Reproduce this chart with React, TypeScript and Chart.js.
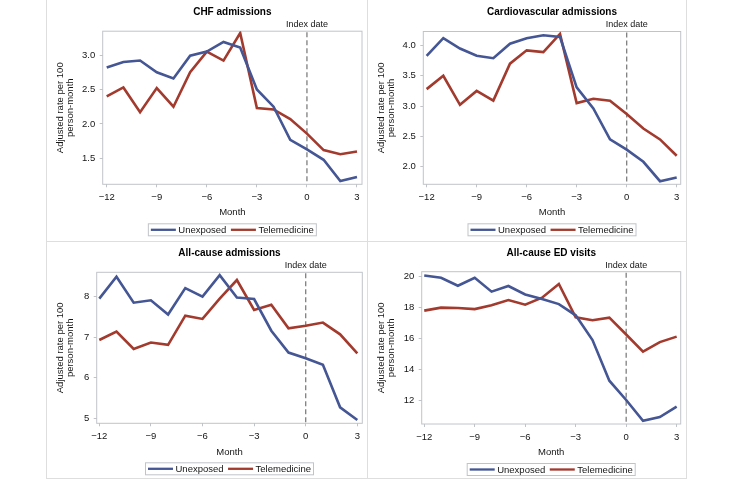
import React, { useEffect, useRef } from "react";
import { Chart, registerables } from "chart.js";

Chart.register(...registerables);

// ---------- data ----------
const months = [-12, -11, -10, -9, -8, -7, -6, -5, -4, -3, -2, -1, 0, 1, 2, 3];
const xTicks = [-12, -9, -6, -3, 0, 3];
const seriesNames = ["Unexposed", "Telemedicine"];
const indexDateLabel = "Index date";
const xAxisTitle = "Month";
const yAxisTitle = ["Adjusted rate per 100", "person-month"];

const chfTitle = "CHF admissions";
const chfUnexposed = [2.82, 2.9, 2.92, 2.75, 2.66, 2.99, 3.05, 3.19, 3.11, 2.5, 2.25, 1.77, 1.63, 1.48, 1.17, 1.23];
const chfTelemedicine = [2.4, 2.53, 2.17, 2.52, 2.25, 2.75, 3.05, 2.92, 3.32, 2.23, 2.21, 2.07, 1.86, 1.62, 1.56, 1.6];
const chfYTicks = [1.5, 2.0, 2.5, 3.0];

const cvTitle = "Cardiovascular admissions";
const cvUnexposed = [3.83, 4.12, 3.95, 3.83, 3.79, 4.03, 4.12, 4.17, 4.14, 3.31, 2.96, 2.45, 2.28, 2.08, 1.76, 1.82];
const cvTelemedicine = [3.28, 3.5, 3.02, 3.25, 3.09, 3.7, 3.92, 3.89, 4.19, 3.05, 3.12, 3.09, 2.87, 2.63, 2.45, 2.18];
const cvYTicks = [2.0, 2.5, 3.0, 3.5, 4.0];

const allTitle = "All-cause admissions";
const allUnexposed = [7.95, 8.49, 7.85, 7.91, 7.56, 8.21, 8.0, 8.53, 7.98, 7.94, 7.16, 6.62, 6.48, 6.32, 5.27, 4.96];
const allTelemedicine = [6.93, 7.14, 6.71, 6.87, 6.81, 7.53, 7.45, 7.95, 8.41, 7.67, 7.8, 7.22, 7.28, 7.36, 7.07, 6.6];
const allYTicks = [5, 6, 7, 8];

const edTitle = "All-cause ED visits";
const edUnexposed = [20.04, 19.89, 19.38, 19.89, 19.0, 19.36, 18.82, 18.52, 18.2, 17.48, 15.89, 13.28, 12.04, 10.71, 10.95, 11.61];
const edTelemedicine = [17.78, 17.97, 17.95, 17.88, 18.12, 18.46, 18.16, 18.61, 19.49, 17.35, 17.16, 17.33, 16.25, 15.14, 15.76, 16.11];
const edYTicks = [12, 14, 16, 18, 20];

// ---------- style ----------
const FONT = "'Liberation Sans', Arial, Helvetica, sans-serif";
const BLUE = "#445694";
const RED = "#A23A2E";
const FRAME = "#c0c4c9";
const TEXT = "#151515";
const OUTER = "#dedede";

type Panel = {
  title: string;
  unexposed: number[];
  telemedicine: number[];
  yTicks: number[];
  yMin: number;
  yMax: number;
  xMin: number;
  xMax: number;
  decimals: number;
  box: { left: number; top: number; width: number; height: number };
  plot: { l: number; r: number; t: number; b: number };
  monthY: number;
};

const panels: Panel[] = [
  {
    title: chfTitle, unexposed: chfUnexposed, telemedicine: chfTelemedicine, yTicks: chfYTicks,
    yMin: 1.124, yMax: 3.346, xMin: -12.24, xMax: 3.3, decimals: 1,
    box: { left: 46, top: 0, width: 321, height: 241 },
    plot: { l: 56.7, r: 316, t: 31.2, b: 184.3 }, monthY: 212,
  },
  {
    title: cvTitle, unexposed: cvUnexposed, telemedicine: cvTelemedicine, yTicks: cvYTicks,
    yMin: 1.709, yMax: 4.231, xMin: -12.2, xMax: 3.24, decimals: 1,
    box: { left: 367, top: 0, width: 319, height: 241 },
    plot: { l: 56.3, r: 313.7, t: 31.5, b: 184.3 }, monthY: 212.3,
  },
  {
    title: allTitle, unexposed: allUnexposed, telemedicine: allTelemedicine, yTicks: allYTicks,
    yMin: 4.877, yMax: 8.6, xMin: -12.15, xMax: 3.29, decimals: 0,
    box: { left: 46, top: 241, width: 321, height: 238 },
    plot: { l: 50.7, r: 316.3, t: 31.3, b: 182.3 }, monthY: 211.3,
  },
  {
    title: edTitle, unexposed: edUnexposed, telemedicine: edTelemedicine, yTicks: edYTicks,
    yMin: 10.5, yMax: 20.28, xMin: -12.15, xMax: 3.24, decimals: 0,
    box: { left: 367, top: 241, width: 319, height: 238 },
    plot: { l: 54.7, r: 313.7, t: 30.7, b: 183 }, monthY: 211,
  },
];

function fmt(v: number, d: number) {
  const s = Math.abs(v).toFixed(d);
  return v < 0 ? "\u2212" + s : s;
}

function PanelChart({ p }: { p: Panel }) {
  const ref = useRef<HTMLCanvasElement>(null);

  useEffect(() => {
    const canvas = ref.current;
    if (!canvas) return;
    const W = p.box.width;
    const H = p.box.height;
    const tickFontSize = 9.5;
    const xLH = tickFontSize * 1.2;
    const xH = p.monthY - p.plot.b + xLH / 2;

    const decor = {
      id: "decor",
      beforeDatasetsDraw(chart: any) {
        const { ctx, chartArea: a, scales } = chart;
        ctx.save();
        // frame
        ctx.strokeStyle = FRAME;
        ctx.lineWidth = 1;
        ctx.strokeRect(a.left, a.top, a.right - a.left, a.bottom - a.top);
        // index date reference line
        const x0 = scales.x.getPixelForValue(0);
        ctx.strokeStyle = "#7f7f7f";
        ctx.lineWidth = 1.3;
        ctx.setLineDash([5, 3]);
        ctx.beginPath();
        ctx.moveTo(x0, a.top + 1);
        ctx.lineTo(x0, a.bottom);
        ctx.stroke();
        ctx.setLineDash([]);
        ctx.fillStyle = TEXT;
        ctx.font = `9px ${FONT}`;
        ctx.textAlign = "center";
        ctx.textBaseline = "middle";
        ctx.fillText(indexDateLabel, x0, a.top - 6.5);
        ctx.restore();
      },
      afterDraw(chart: any) {
        const { ctx, chartArea: a } = chart;
        const cx = (a.left + a.right) / 2;
        ctx.save();
        // title
        ctx.fillStyle = "#000";
        ctx.font = `bold 10px ${FONT}`;
        ctx.textAlign = "center";
        ctx.textBaseline = "middle";
        ctx.fillText(p.title, cx, 12);
        // legend
        ctx.font = `9.5px ${FONT}`;
        const pad = 2.5, lineLen = 25, gap = 2.5, itemGap = 4.5;
        const ds = chart.data.datasets;
        const widths = ds.map((d: any) => ctx.measureText(d.label).width);
        let total = pad * 2;
        widths.forEach((w: number, i: number) => {
          total += lineLen + gap + w + (i < widths.length - 1 ? itemGap : 0);
        });
        const cy = a.bottom + 45.5;
        const bh = 12;
        let x = cx - total / 2;
        ctx.strokeStyle = FRAME;
        ctx.lineWidth = 1;
        ctx.strokeRect(x, cy - bh / 2, total, bh);
        x += pad;
        ds.forEach((d: any, i: number) => {
          ctx.strokeStyle = d.borderColor;
          ctx.lineWidth = 2.3;
          ctx.beginPath();
          ctx.moveTo(x, cy);
          ctx.lineTo(x + lineLen, cy);
          ctx.stroke();
          x += lineLen + gap;
          ctx.fillStyle = TEXT;
          ctx.textAlign = "left";
          ctx.fillText(d.label, x, cy + 0.5);
          x += widths[i] + itemGap;
        });
        ctx.restore();
      },
    };

    const chart = new Chart(canvas, {
      type: "line",
      data: {
        datasets: [
          {
            label: seriesNames[0],
            data: months.map((m, i) => ({ x: m, y: p.unexposed[i] })),
            borderColor: BLUE,
            backgroundColor: BLUE,
            borderWidth: 2.6,
            pointRadius: 0,
            tension: 0,
          },
          {
            label: seriesNames[1],
            data: months.map((m, i) => ({ x: m, y: p.telemedicine[i] })),
            borderColor: RED,
            backgroundColor: RED,
            borderWidth: 2.6,
            pointRadius: 0,
            tension: 0,
          },
        ],
      },
      options: {
        responsive: false,
        animation: false,
        events: [],
        devicePixelRatio: 1,
        layout: {
          padding: { left: 0, right: W - p.plot.r, top: p.plot.t, bottom: H - p.plot.b - xH },
        },
        plugins: {
          legend: { display: false },
          title: { display: false },
          tooltip: { enabled: false },
        },
        scales: {
          x: {
            type: "linear",
            min: p.xMin,
            max: p.xMax,
            afterBuildTicks: (s: any) => {
              s.ticks = xTicks.map((v) => ({ value: v }));
            },
            afterFit: (s: any) => {
              s.height = xH;
            },
            border: { display: false },
            grid: { display: true, drawOnChartArea: false, drawTicks: true, tickLength: 3, color: FRAME },
            ticks: {
              autoSkip: false,
              maxRotation: 0,
              padding: 4.2,
              color: TEXT,
              font: { family: FONT, size: tickFontSize, lineHeight: 1.2 },
              callback: (v: any) => fmt(Number(v), 0),
            },
            title: {
              display: true,
              text: xAxisTitle,
              color: TEXT,
              padding: { top: 0, bottom: 0 },
              font: { family: FONT, size: 9.5, lineHeight: 1.2 },
            },
          },
          y: {
            type: "linear",
            min: p.yMin,
            max: p.yMax,
            afterBuildTicks: (s: any) => {
              s.ticks = p.yTicks.map((v) => ({ value: v }));
            },
            afterFit: (s: any) => {
              s.width = p.plot.l;
            },
            border: { display: false },
            grid: { display: true, drawOnChartArea: false, drawTicks: true, tickLength: 3, color: FRAME },
            ticks: {
              autoSkip: false,
              padding: 4.5,
              color: TEXT,
              font: { family: FONT, size: tickFontSize, lineHeight: 1.2 },
              callback: (v: any) => fmt(Number(v), p.decimals),
            },
            title: {
              display: true,
              text: yAxisTitle,
              color: TEXT,
              padding: { top: 9, bottom: 0 },
              font: { family: FONT, size: 9.5, lineHeight: 10 / 9.5 },
            },
          },
        },
      },
      plugins: [decor],
    } as any);

    return () => chart.destroy();
  }, [p]);

  return (
    <canvas
      ref={ref}
      width={p.box.width}
      height={p.box.height}
      style={{
        position: "absolute",
        left: p.box.left,
        top: p.box.top,
        width: p.box.width,
        height: p.box.height,
      }}
    />
  );
}

function Line({ left, top, width, height }: { left: number; top: number; width: number; height: number }) {
  return <div style={{ position: "absolute", left, top, width, height, background: OUTER }} />;
}

export default function App() {
  return (
    <div style={{ position: "absolute", left: 0, top: 0, width: 733, height: 480, background: "#fff" }}>
      {panels.map((p, i) => (
        <PanelChart key={i} p={p} />
      ))}
      <Line left={46} top={0} width={1} height={479} />
      <Line left={367} top={0} width={1} height={479} />
      <Line left={686} top={0} width={1} height={479} />
      <Line left={46} top={241} width={641} height={1} />
      <Line left={46} top={478} width={641} height={1} />
    </div>
  );
}
